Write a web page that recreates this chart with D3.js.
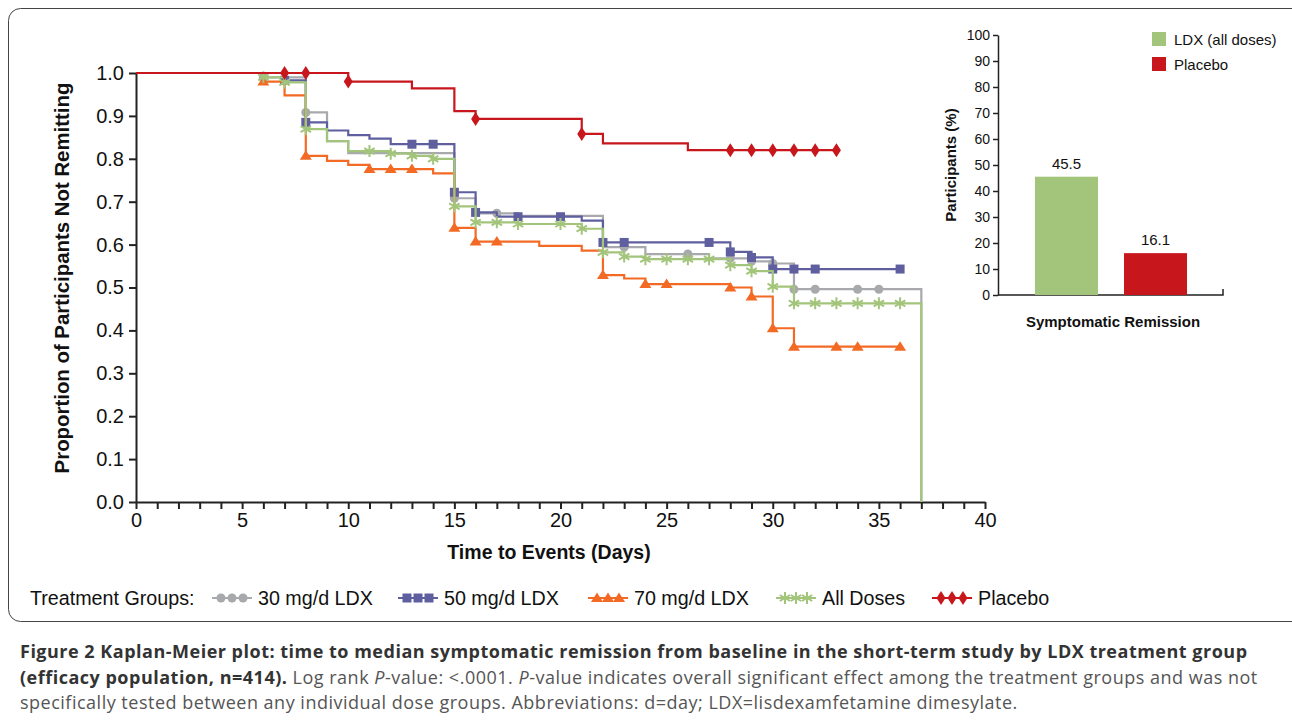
<!DOCTYPE html>
<html>
<head>
<meta charset="utf-8">
<script src="https://cdn.jsdelivr.net/npm/d3@7"></script>
<style>
  body { margin: 0; background: #fff; }
  svg { display: block; font-family: "Liberation Sans", Arial, sans-serif; }
  .cap { font-family: "Open Sans", sans-serif; font-size: 18px; letter-spacing: 0.5px; }
</style>
</head>
<body>
<svg id="chart" width="1292" height="725"></svg>
<script>
// --- DATA ---
// step points: [day, proportion after that day's events]
const placeboSteps = [[0,1],[10,0.98],[13,0.964],[15,0.911],[16,0.893],[21,0.858],[22,0.836],[26,0.82]];
const placeboCens = [7,8,10,16,21,28,29,30,31,32,33];
const placeboEnd = 33;

const mg30Steps = [[0,1],[6,0.99],[8,0.908],[9,0.841],[10,0.813],[15,0.708],[16,0.673],[18,0.667],[22,0.594],[24,0.578],[27,0.568],[29,0.561],[30,0.556],[31,0.496],[37,0]];
const mg30Cens = [6,8,15,17,23,26,28,29,30,31,32,34,35];
const mg30End = 37;

const mg50Steps = [[0,1],[7,0.983],[8,0.885],[9,0.866],[10,0.855],[11,0.847],[12,0.834],[15,0.722],[16,0.675],[17,0.665],[21,0.656],[22,0.605],[28,0.583],[29,0.57],[30,0.543]];
const mg50Cens = [7,8,13,14,15,16,18,20,22,23,27,28,29,30,31,32,36];
const mg50End = 36;

const mg70Steps = [[0,1],[6,0.98],[7,0.948],[8,0.807],[9,0.795],[10,0.786],[11,0.776],[14,0.766],[15,0.639],[16,0.607],[19,0.597],[21,0.586],[22,0.529],[23,0.521],[24,0.508],[28,0.5],[29,0.479],[30,0.405],[31,0.362]];
const mg70Cens = [6,8,11,12,13,15,16,17,22,24,25,28,29,30,31,33,34,36];
const mg70End = 36;

const allSteps = [[0,1],[6,0.99],[7,0.978],[8,0.869],[9,0.841],[10,0.818],[12,0.812],[13,0.807],[14,0.8],[15,0.689],[16,0.652],[18,0.648],[21,0.637],[22,0.582],[23,0.572],[24,0.566],[28,0.552],[29,0.538],[30,0.502],[31,0.463],[37,0]];
const allCens = [6,7,8,11,12,13,14,15,16,17,18,20,21,22,23,24,25,26,27,28,29,30,31,32,33,34,35,36];
const allEnd = 37;

const xTicks = d3.range(0, 41, 1);
const xLabels = [0,5,10,15,20,25,30,35,40];
const yTicks = [0,0.1,0.2,0.3,0.4,0.5,0.6,0.7,0.8,0.9,1.0];

const barGroups = ["LDX (all doses)", "Placebo"];
const barValues = [45.5, 16.1];
const barTicks = [0,10,20,30,40,50,60,70,80,90,100];

// --- STYLE ---
const C_GRAY = "#a7a9ac", C_BLUE = "#5f5f9f", C_ORANGE = "#f26a24", C_GREEN = "#a3c57b", C_RED = "#c8161d";

const series = [
  { name: "30 mg/d LDX", steps: mg30Steps, cens: mg30Cens, end: mg30End, color: C_GRAY, mark: "circle" },
  { name: "50 mg/d LDX", steps: mg50Steps, cens: mg50Cens, end: mg50End, color: C_BLUE, mark: "square" },
  { name: "70 mg/d LDX", steps: mg70Steps, cens: mg70Cens, end: mg70End, color: C_ORANGE, mark: "triangle" },
  { name: "All Doses", steps: allSteps, cens: allCens, end: allEnd, color: C_GREEN, mark: "star" },
  { name: "Placebo", steps: placeboSteps, cens: placeboCens, end: placeboEnd, color: C_RED, mark: "diamond" }
];

const svg = d3.select("#chart");

// frame
svg.append("rect").attr("x", 8.5).attr("y", 8.5).attr("width", 1300).attr("height", 613)
  .attr("rx", 12).attr("fill", "none").attr("stroke", "#444").attr("stroke-width", 1);

// --- KM PLOT ---
const x = d3.scaleLinear().domain([0, 40]).range([136, 985]);
const y = d3.scaleLinear().domain([0, 1]).range([502, 73]);

const xAxis = svg.append("g").attr("transform", "translate(0,502)")
  .call(d3.axisBottom(x).tickValues(xTicks).tickSize(7).tickSizeOuter(0)
    .tickFormat(d => xLabels.includes(d) ? d : ""));
const yAxis = svg.append("g").attr("transform", "translate(136,0)")
  .call(d3.axisLeft(y).tickValues(yTicks).tickSize(7).tickSizeOuter(0).tickFormat(d3.format(".1f")));

[xAxis, yAxis].forEach(a => {
  a.select(".domain").attr("stroke", "#222").attr("stroke-width", 2);
  a.selectAll(".tick line").attr("stroke", "#222").attr("stroke-width", 2);
  a.selectAll(".tick text").attr("font-size", 20).attr("fill", "#111").attr("font-family", "Liberation Sans, Arial");
});
xAxis.selectAll(".tick text").attr("y", 9).attr("dy", "0.8em");
yAxis.selectAll(".tick text").attr("x", -12);

svg.append("text").attr("x", 549).attr("y", 559).attr("text-anchor", "middle")
  .attr("font-size", 19.5).attr("font-weight", "bold").attr("fill", "#111").text("Time to Events (Days)");
svg.append("text").attr("transform", "translate(69,278) rotate(-90)").attr("text-anchor", "middle")
  .attr("font-size", 20.4).attr("font-weight", "bold").attr("fill", "#111").text("Proportion of Participants Not Remitting");

function markPath(type) {
  switch (type) {
    case "circle": return d3.symbol(d3.symbolCircle, 64)();
    case "square": return "M-4.5,-4.5H4.5V4.5H-4.5Z";
    case "triangle": return "M0,-5.5L6,4L-6,4Z";
    case "diamond": return "M0,-7L4.5,0L0,7L-4.5,0Z";
    case "star": return "M0,-6V6M-5.2,-3L5.2,3M-5.2,3L5.2,-3";
  }
}

function stepValue(steps, day) {
  let v = steps[0][1];
  steps.forEach(s => { if (s[0] <= day) v = s[1]; });
  return v;
}

function drawMark(g, type, color, px, py) {
  const p = g.append("path").attr("d", markPath(type)).attr("transform", `translate(${px},${py})`);
  if (type === "star") p.attr("fill", "none").attr("stroke", color).attr("stroke-width", 2);
  else p.attr("fill", color);
}

const line = d3.line().x(d => x(d[0])).y(d => y(d[1])).curve(d3.curveStepAfter);

series.forEach(s => {
  const last = s.steps[s.steps.length - 1];
  const pts = s.steps.slice();
  if (last[0] < s.end) pts.push([s.end, last[1]]);
  const g = svg.append("g");
  g.append("path").attr("d", line(pts)).attr("fill", "none").attr("stroke", s.color).attr("stroke-width", 2.2);
  s.cens.forEach(dy => drawMark(g, s.mark, s.color, x(dy), y(stepValue(s.steps, dy))));
});

// --- LEGEND ---
const legY = 598;
svg.append("text").attr("x", 30).attr("y", legY + 7).attr("font-size", 19.7).attr("fill", "#111").text("Treatment Groups:");
const legX = [212, 398, 588, 776, 932];
series.forEach((s, i) => {
  const g = svg.append("g");
  const x0 = legX[i];
  g.append("line").attr("x1", x0).attr("x2", x0 + 40).attr("y1", legY).attr("y2", legY)
    .attr("stroke", s.color).attr("stroke-width", 2.2);
  [x0 + 9, x0 + 20, x0 + 31].forEach(mx => drawMark(g, s.mark, s.color, mx, legY));
  g.append("text").attr("x", x0 + 46).attr("y", legY + 7).attr("font-size", 19.7).attr("fill", "#111").text(s.name);
});

// --- BAR CHART ---
const by = d3.scaleLinear().domain([0, 100]).range([295, 35]);
const bx = d3.scaleBand().domain(barGroups).range([1013, 1209]).paddingInner(0.292).paddingOuter(0.247);
const barColors = [C_GREEN, C_RED];

const bAxis = svg.append("g").attr("transform", "translate(998,0)")
  .call(d3.axisLeft(by).tickValues(barTicks).tickSize(5).tickSizeOuter(0));
bAxis.select(".domain").attr("stroke", "#222").attr("stroke-width", 1.5);
bAxis.selectAll(".tick line").attr("stroke", "#222").attr("stroke-width", 1.5);
bAxis.selectAll(".tick text").attr("font-size", 14).attr("fill", "#111").attr("x", -8);

svg.append("path").attr("d", "M998,295H1223V289").attr("fill", "none").attr("stroke", "#222").attr("stroke-width", 1.5);

svg.selectAll(".bar").data(barValues).join("rect").attr("class", "bar")
  .attr("x", (d, i) => bx(barGroups[i])).attr("width", bx.bandwidth())
  .attr("y", d => by(d)).attr("height", d => by(0) - by(d))
  .attr("fill", (d, i) => barColors[i]);
svg.selectAll(".blab").data(barValues).join("text").attr("class", "blab")
  .attr("x", (d, i) => bx(barGroups[i]) + bx.bandwidth() / 2).attr("y", d => by(d) - 8)
  .attr("text-anchor", "middle").attr("font-size", 15).attr("fill", "#111").text(d => d.toFixed(1));

svg.append("text").attr("transform", "translate(956,165) rotate(-90)").attr("text-anchor", "middle")
  .attr("font-size", 15).attr("font-weight", "bold").attr("fill", "#111").text("Participants (%)");
svg.append("text").attr("x", 1113).attr("y", 327).attr("text-anchor", "middle")
  .attr("font-size", 15).attr("font-weight", "bold").attr("fill", "#111").text("Symptomatic Remission");

barGroups.forEach((gname, i) => {
  svg.append("rect").attr("x", 1152).attr("y", 32 + i * 25).attr("width", 14).attr("height", 14).attr("fill", barColors[i]);
  svg.append("text").attr("x", 1174).attr("y", 45 + i * 25).attr("font-size", 15).attr("fill", "#111").text(gname);
});

// --- CAPTION ---
const cap = svg.append("g").attr("class", "cap");
const l1 = cap.append("text").attr("x", 20).attr("y", 658).attr("fill", "#333").attr("font-weight", "bold");
l1.text("Figure 2 Kaplan-Meier plot: time to median symptomatic remission from baseline in the short-term study by LDX treatment group");
const l2 = cap.append("text").attr("x", 20).attr("y", 683.5).attr("fill", "#555");
l2.append("tspan").attr("font-weight", "bold").attr("fill", "#333").text("(efficacy population, n=414).");
l2.append("tspan").text(" Log rank ");
l2.append("tspan").attr("font-style", "italic").text("P");
l2.append("tspan").text("-value: <.0001. ");
l2.append("tspan").attr("font-style", "italic").text("P");
l2.append("tspan").text("-value indicates overall significant effect among the treatment groups and was not");
cap.append("text").attr("x", 20).attr("y", 709).attr("fill", "#555")
  .text("specifically tested between any individual dose groups. Abbreviations: d=day; LDX=lisdexamfetamine dimesylate.");
</script>
</body>
</html>
